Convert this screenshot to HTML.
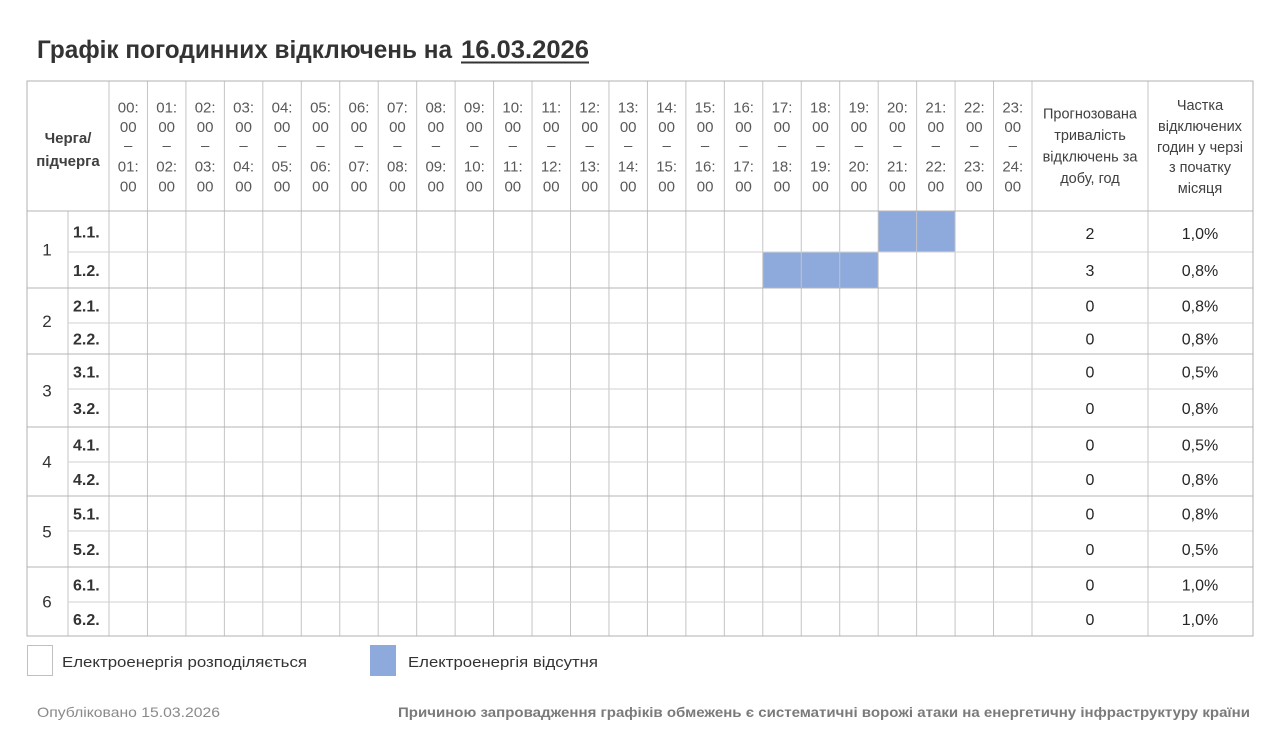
<!DOCTYPE html>
<html>
<head>
<meta charset="utf-8">
<style>
html,body{margin:0;padding:0;background:#fff;}
svg{display:block;}
text{font-family:"Liberation Sans","Noto Sans CJK SC",sans-serif;}
</style>
</head>
<body>
<svg width="1280" height="750" viewBox="0 0 1280 750" xmlns="http://www.w3.org/2000/svg">
<rect x="0" y="0" width="1280" height="750" fill="#fff"/>

<!-- Title -->
<text x="37" y="58" font-size="25" font-weight="bold" fill="#333" textLength="415" lengthAdjust="spacingAndGlyphs">Графік погодинних відключень на</text>
<text x="461" y="58" font-size="25" font-weight="bold" fill="#333" textLength="128" lengthAdjust="spacingAndGlyphs">16.03.2026</text>
<line x1="461" y1="62.5" x2="589" y2="62.5" stroke="#333" stroke-width="2"/>

<!-- Blue cells -->
<rect x="878.17" y="211" width="76.91" height="41" fill="#8eaadc"/>
<rect x="762.79" y="252" width="115.38" height="36" fill="#8eaadc"/>

<!-- Grid lines -->
<g stroke="#c4c4c4" stroke-width="1" fill="none">
  <!-- hour vertical lines -->
  <line x1="109" y1="81" x2="109" y2="636"/>
  <line x1="147.46" y1="81" x2="147.46" y2="636"/>
  <line x1="185.92" y1="81" x2="185.92" y2="636"/>
  <line x1="224.38" y1="81" x2="224.38" y2="636"/>
  <line x1="262.83" y1="81" x2="262.83" y2="636"/>
  <line x1="301.29" y1="81" x2="301.29" y2="636"/>
  <line x1="339.75" y1="81" x2="339.75" y2="636"/>
  <line x1="378.21" y1="81" x2="378.21" y2="636"/>
  <line x1="416.67" y1="81" x2="416.67" y2="636"/>
  <line x1="455.13" y1="81" x2="455.13" y2="636"/>
  <line x1="493.58" y1="81" x2="493.58" y2="636"/>
  <line x1="532.04" y1="81" x2="532.04" y2="636"/>
  <line x1="570.5" y1="81" x2="570.5" y2="636"/>
  <line x1="608.96" y1="81" x2="608.96" y2="636"/>
  <line x1="647.42" y1="81" x2="647.42" y2="636"/>
  <line x1="685.88" y1="81" x2="685.88" y2="636"/>
  <line x1="724.33" y1="81" x2="724.33" y2="636"/>
  <line x1="762.79" y1="81" x2="762.79" y2="636"/>
  <line x1="801.25" y1="81" x2="801.25" y2="636"/>
  <line x1="839.71" y1="81" x2="839.71" y2="636"/>
  <line x1="878.17" y1="81" x2="878.17" y2="636"/>
  <line x1="916.63" y1="81" x2="916.63" y2="636"/>
  <line x1="955.08" y1="81" x2="955.08" y2="636"/>
  <line x1="993.54" y1="81" x2="993.54" y2="636"/>
  <line x1="1032" y1="81" x2="1032" y2="636"/>
  <line x1="1148" y1="81" x2="1148" y2="636"/>
  <line x1="68" y1="211" x2="68" y2="636"/>
  <!-- sub-row lines -->
  <line x1="68" y1="252" x2="1253" y2="252" stroke="#d2d2d2"/>
  <line x1="68" y1="323" x2="1253" y2="323" stroke="#d2d2d2"/>
  <line x1="68" y1="389" x2="1253" y2="389" stroke="#d2d2d2"/>
  <line x1="68" y1="462" x2="1253" y2="462" stroke="#d2d2d2"/>
  <line x1="68" y1="531" x2="1253" y2="531" stroke="#d2d2d2"/>
  <line x1="68" y1="602" x2="1253" y2="602" stroke="#d2d2d2"/>
  <!-- group lines -->
  <line x1="27" y1="211" x2="1253" y2="211" stroke="#b4b4b4"/>
  <line x1="27" y1="288" x2="1253" y2="288" stroke="#b4b4b4"/>
  <line x1="27" y1="354" x2="1253" y2="354" stroke="#b4b4b4"/>
  <line x1="27" y1="427" x2="1253" y2="427" stroke="#b4b4b4"/>
  <line x1="27" y1="496" x2="1253" y2="496" stroke="#b4b4b4"/>
  <line x1="27" y1="567" x2="1253" y2="567" stroke="#b4b4b4"/>
  <!-- outer border -->
  <rect x="27" y="81" width="1226" height="555" stroke="#b0b0b0"/>
</g>

<!-- Header: Черга/підчерга -->
<text x="68" y="143" font-size="15" font-weight="bold" fill="#404040" text-anchor="middle">Черга/</text>
<text x="68" y="166" font-size="15" font-weight="bold" fill="#404040" text-anchor="middle">підчерга</text>

<!-- Header hours -->
<g font-size="15" fill="#595959" text-anchor="middle">
<text x="128.23" y="112.3">00:</text><text x="128.23" y="131.8">00</text><text x="128.23" y="150.5">–</text><text x="128.23" y="171.3">01:</text><text x="128.23" y="191.3">00</text>
<text x="166.69" y="112.3">01:</text><text x="166.69" y="131.8">00</text><text x="166.69" y="150.5">–</text><text x="166.69" y="171.3">02:</text><text x="166.69" y="191.3">00</text>
<text x="205.15" y="112.3">02:</text><text x="205.15" y="131.8">00</text><text x="205.15" y="150.5">–</text><text x="205.15" y="171.3">03:</text><text x="205.15" y="191.3">00</text>
<text x="243.60" y="112.3">03:</text><text x="243.60" y="131.8">00</text><text x="243.60" y="150.5">–</text><text x="243.60" y="171.3">04:</text><text x="243.60" y="191.3">00</text>
<text x="282.06" y="112.3">04:</text><text x="282.06" y="131.8">00</text><text x="282.06" y="150.5">–</text><text x="282.06" y="171.3">05:</text><text x="282.06" y="191.3">00</text>
<text x="320.52" y="112.3">05:</text><text x="320.52" y="131.8">00</text><text x="320.52" y="150.5">–</text><text x="320.52" y="171.3">06:</text><text x="320.52" y="191.3">00</text>
<text x="358.98" y="112.3">06:</text><text x="358.98" y="131.8">00</text><text x="358.98" y="150.5">–</text><text x="358.98" y="171.3">07:</text><text x="358.98" y="191.3">00</text>
<text x="397.44" y="112.3">07:</text><text x="397.44" y="131.8">00</text><text x="397.44" y="150.5">–</text><text x="397.44" y="171.3">08:</text><text x="397.44" y="191.3">00</text>
<text x="435.90" y="112.3">08:</text><text x="435.90" y="131.8">00</text><text x="435.90" y="150.5">–</text><text x="435.90" y="171.3">09:</text><text x="435.90" y="191.3">00</text>
<text x="474.35" y="112.3">09:</text><text x="474.35" y="131.8">00</text><text x="474.35" y="150.5">–</text><text x="474.35" y="171.3">10:</text><text x="474.35" y="191.3">00</text>
<text x="512.81" y="112.3">10:</text><text x="512.81" y="131.8">00</text><text x="512.81" y="150.5">–</text><text x="512.81" y="171.3">11:</text><text x="512.81" y="191.3">00</text>
<text x="551.27" y="112.3">11:</text><text x="551.27" y="131.8">00</text><text x="551.27" y="150.5">–</text><text x="551.27" y="171.3">12:</text><text x="551.27" y="191.3">00</text>
<text x="589.73" y="112.3">12:</text><text x="589.73" y="131.8">00</text><text x="589.73" y="150.5">–</text><text x="589.73" y="171.3">13:</text><text x="589.73" y="191.3">00</text>
<text x="628.19" y="112.3">13:</text><text x="628.19" y="131.8">00</text><text x="628.19" y="150.5">–</text><text x="628.19" y="171.3">14:</text><text x="628.19" y="191.3">00</text>
<text x="666.65" y="112.3">14:</text><text x="666.65" y="131.8">00</text><text x="666.65" y="150.5">–</text><text x="666.65" y="171.3">15:</text><text x="666.65" y="191.3">00</text>
<text x="705.10" y="112.3">15:</text><text x="705.10" y="131.8">00</text><text x="705.10" y="150.5">–</text><text x="705.10" y="171.3">16:</text><text x="705.10" y="191.3">00</text>
<text x="743.56" y="112.3">16:</text><text x="743.56" y="131.8">00</text><text x="743.56" y="150.5">–</text><text x="743.56" y="171.3">17:</text><text x="743.56" y="191.3">00</text>
<text x="782.02" y="112.3">17:</text><text x="782.02" y="131.8">00</text><text x="782.02" y="150.5">–</text><text x="782.02" y="171.3">18:</text><text x="782.02" y="191.3">00</text>
<text x="820.48" y="112.3">18:</text><text x="820.48" y="131.8">00</text><text x="820.48" y="150.5">–</text><text x="820.48" y="171.3">19:</text><text x="820.48" y="191.3">00</text>
<text x="858.94" y="112.3">19:</text><text x="858.94" y="131.8">00</text><text x="858.94" y="150.5">–</text><text x="858.94" y="171.3">20:</text><text x="858.94" y="191.3">00</text>
<text x="897.40" y="112.3">20:</text><text x="897.40" y="131.8">00</text><text x="897.40" y="150.5">–</text><text x="897.40" y="171.3">21:</text><text x="897.40" y="191.3">00</text>
<text x="935.85" y="112.3">21:</text><text x="935.85" y="131.8">00</text><text x="935.85" y="150.5">–</text><text x="935.85" y="171.3">22:</text><text x="935.85" y="191.3">00</text>
<text x="974.31" y="112.3">22:</text><text x="974.31" y="131.8">00</text><text x="974.31" y="150.5">–</text><text x="974.31" y="171.3">23:</text><text x="974.31" y="191.3">00</text>
<text x="1012.77" y="112.3">23:</text><text x="1012.77" y="131.8">00</text><text x="1012.77" y="150.5">–</text><text x="1012.77" y="171.3">24:</text><text x="1012.77" y="191.3">00</text>
</g>

<!-- Header right columns -->
<g font-size="14.5" fill="#404040" text-anchor="middle">
<text x="1090" y="118.5">Прогнозована</text>
<text x="1090" y="140">тривалість</text>
<text x="1090" y="161.5">відключень за</text>
<text x="1090" y="183">добу, год</text>
<text x="1200" y="110">Частка</text>
<text x="1200" y="131">відключених</text>
<text x="1200" y="152">годин у черзі</text>
<text x="1200" y="172">з початку</text>
<text x="1200" y="193">місяця</text>
</g>

<!-- Group numbers -->
<g font-size="17" fill="#333" text-anchor="middle">
<text x="47" y="255.6">1</text>
<text x="47" y="327.1">2</text>
<text x="47" y="396.6">3</text>
<text x="47" y="467.6">4</text>
<text x="47" y="537.6">5</text>
<text x="47" y="607.6">6</text>
</g>

<!-- Subgroup labels -->
<g font-size="16" font-weight="bold" fill="#333">
<text x="73" y="237.3">1.1.</text>
<text x="73" y="275.8">1.2.</text>
<text x="73" y="311.3">2.1.</text>
<text x="73" y="344.3">2.2.</text>
<text x="73" y="377.3">3.1.</text>
<text x="73" y="413.8">3.2.</text>
<text x="73" y="450.3">4.1.</text>
<text x="73" y="484.8">4.2.</text>
<text x="73" y="519.3">5.1.</text>
<text x="73" y="554.8">5.2.</text>
<text x="73" y="590.3">6.1.</text>
<text x="73" y="624.8">6.2.</text>
</g>

<!-- Values -->
<g font-size="16" fill="#262626" text-anchor="middle">
<text x="1090" y="239">2</text><text x="1200" y="239">1,0%</text>
<text x="1090" y="276">3</text><text x="1200" y="276">0,8%</text>
<text x="1090" y="311.5">0</text><text x="1200" y="311.5">0,8%</text>
<text x="1090" y="344.5">0</text><text x="1200" y="344.5">0,8%</text>
<text x="1090" y="377.5">0</text><text x="1200" y="377.5">0,5%</text>
<text x="1090" y="414">0</text><text x="1200" y="414">0,8%</text>
<text x="1090" y="450.5">0</text><text x="1200" y="450.5">0,5%</text>
<text x="1090" y="485">0</text><text x="1200" y="485">0,8%</text>
<text x="1090" y="519.5">0</text><text x="1200" y="519.5">0,8%</text>
<text x="1090" y="555">0</text><text x="1200" y="555">0,5%</text>
<text x="1090" y="590.5">0</text><text x="1200" y="590.5">1,0%</text>
<text x="1090" y="625">0</text><text x="1200" y="625">1,0%</text>
</g>

<!-- Legend -->
<rect x="27.5" y="645.5" width="25" height="30" fill="#fff" stroke="#c0c0c0" stroke-width="1"/>
<text x="62" y="667" font-size="15" fill="#333" textLength="245" lengthAdjust="spacingAndGlyphs">Електроенергія розподіляється</text>
<rect x="370" y="645" width="26" height="31" fill="#8eaadc"/>
<text x="408" y="667" font-size="15" fill="#333" textLength="190" lengthAdjust="spacingAndGlyphs">Електроенергія відсутня</text>

<!-- Footer -->
<text x="37" y="717" font-size="14" fill="#8a8a8a" textLength="183" lengthAdjust="spacingAndGlyphs">Опубліковано 15.03.2026</text>
<text x="398" y="717" font-size="14" font-weight="bold" fill="#7a7a7a" textLength="852" lengthAdjust="spacingAndGlyphs">Причиною запровадження графіків обмежень є систематичні ворожі атаки на енергетичну інфраструктуру країни</text>
</svg>
</body>
</html>
